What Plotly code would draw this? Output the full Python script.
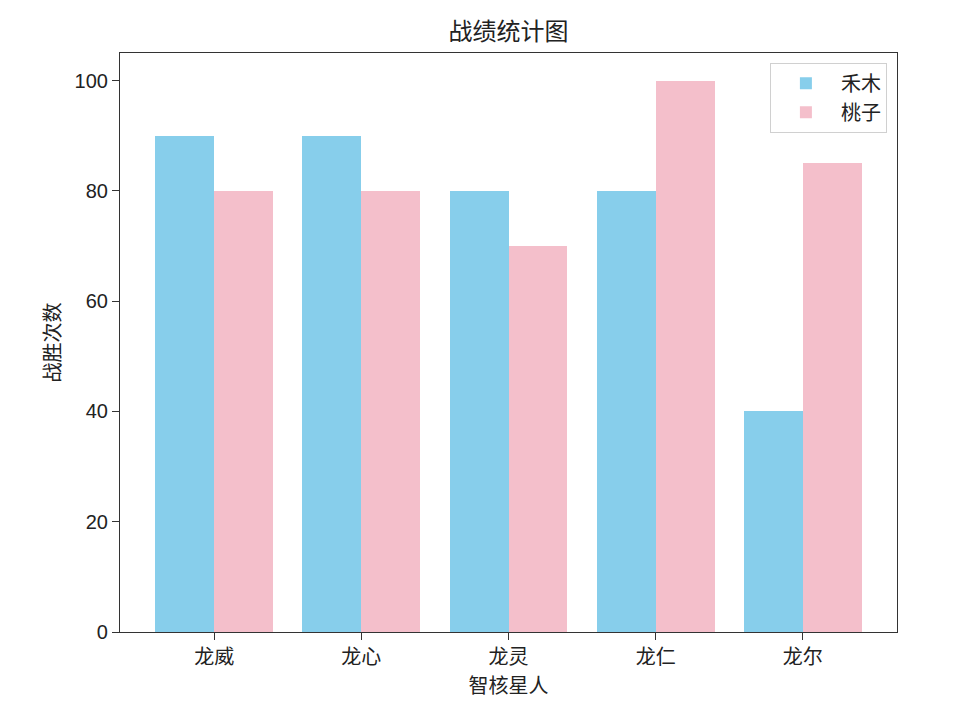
import plotly.graph_objects as go

categories = ["龙威", "龙心", "龙灵", "龙仁", "龙尔"]
hemu = [90, 90, 80, 80, 40]
taozi = [80, 80, 70, 100, 85]
series_names = ["禾木", "桃子"]

pos = list(range(len(categories)))
w = 0.4
font = "Noto Sans CJK SC, DejaVu Sans, sans-serif"

fig = go.Figure()
fig.add_trace(go.Bar(x=[p - w / 2 for p in pos], y=hemu, width=w, name=series_names[0],
                     marker=dict(color="#87CEEB", line=dict(width=0))))
fig.add_trace(go.Bar(x=[p + w / 2 for p in pos], y=taozi, width=w, name=series_names[1],
                     marker=dict(color="#F4BFCB", line=dict(width=0))))

fig.update_layout(
    width=964, height=705,
    margin=dict(l=120, r=67, t=53, b=73),
    paper_bgcolor="white", plot_bgcolor="white",
    font=dict(family=font, size=20, color="#222"),
    title=dict(text="战绩统计图", x=(120 + 897) / 2 / 964, xanchor="center", y=1 - 32 / 705, yanchor="middle",
               font=dict(size=24, color="#222")),
    barmode="overlay",
    bargap=0,
    legend=dict(x=0.987, y=0.983, xanchor="right", yanchor="top",
                bordercolor="#d0d0d0", borderwidth=1, bgcolor="white",
                font=dict(size=20), itemwidth=60, tracegroupgap=2),
    showlegend=True,
)
fig.update_xaxes(
    range=[-0.64, 4.64], tickmode="array", tickvals=pos, ticktext=categories,
    showgrid=False, zeroline=False, showline=True, linecolor="#333", linewidth=1.2, mirror=True,
    ticks="outside", ticklen=7, tickcolor="#333",
    title=dict(text="智核星人", font=dict(size=20), standoff=3),
    tickfont=dict(size=20),
)
fig.update_yaxes(
    range=[0, 105], tickvals=[0, 20, 40, 60, 80, 100],
    showgrid=False, zeroline=False, showline=True, linecolor="#333", linewidth=1.2, mirror=True,
    ticks="outside", ticklen=7, tickcolor="#333",
    title=dict(text="战胜次数", font=dict(size=20), standoff=8),
    tickfont=dict(size=20, family="Liberation Sans, Arial, sans-serif"),
)

fig.write_html("out.html")
